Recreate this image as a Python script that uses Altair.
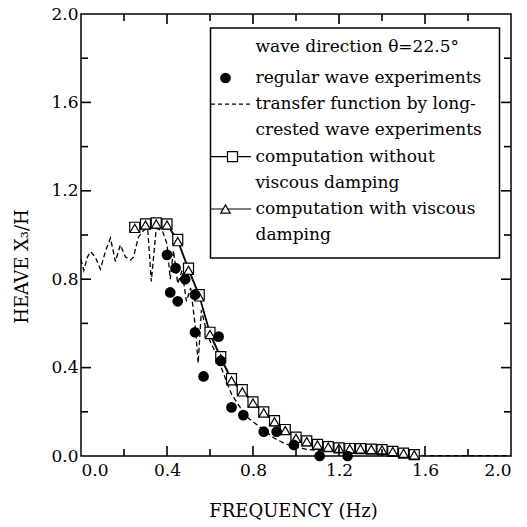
import altair as alt
import pandas as pd

# ---------------- data ----------------
comp_f = [0.25, 0.30, 0.35, 0.40, 0.45, 0.50, 0.55, 0.60, 0.65, 0.70, 0.75, 0.80, 0.85, 0.90,
          0.95, 1.00, 1.05, 1.10, 1.15, 1.20, 1.25, 1.30, 1.35, 1.40, 1.45, 1.50, 1.55]
without_visc = [1.035, 1.05, 1.055, 1.05, 0.98, 0.85, 0.73, 0.56, 0.45, 0.35, 0.30, 0.245, 0.20, 0.16,
                0.12, 0.085, 0.068, 0.053, 0.042, 0.037, 0.034, 0.033, 0.031, 0.029, 0.021, 0.013, 0.006]
with_visc = [1.03, 1.045, 1.05, 1.045, 0.97, 0.84, 0.72, 0.55, 0.44, 0.34, 0.29, 0.24, 0.195, 0.155,
             0.115, 0.08, 0.065, 0.05, 0.04, 0.035, 0.033, 0.032, 0.03, 0.028, 0.02, 0.012, 0.005]

reg_f = [0.40, 0.415, 0.44, 0.45, 0.485, 0.53, 0.53, 0.57, 0.64, 0.65, 0.70, 0.755, 0.85, 0.91, 0.99, 1.11, 1.24]
reg_v = [0.91, 0.74, 0.85, 0.70, 0.80, 0.73, 0.56, 0.36, 0.54, 0.43, 0.22, 0.185, 0.11, 0.11, 0.05, 0.0, 0.0]

tf_f = [0.00, 0.013, 0.03, 0.044, 0.067, 0.09, 0.115, 0.137, 0.16, 0.183, 0.207, 0.23, 0.244, 0.267,
        0.29, 0.31, 0.327, 0.35, 0.378, 0.40, 0.415, 0.43, 0.45, 0.47, 0.49, 0.51, 0.53, 0.545, 0.56,
        0.58, 0.60, 0.63, 0.66, 0.70, 0.74, 0.78, 0.82, 0.86, 0.90, 0.95, 1.00, 1.05, 1.10, 1.20,
        1.30, 1.40, 1.50, 1.56, 1.60, 1.70, 1.80, 1.90, 2.00]
tf_v = [0.89, 0.84, 0.90, 0.925, 0.90, 0.846, 0.93, 0.986, 0.88, 0.955, 0.90, 0.887, 0.90, 0.99,
        1.02, 1.03, 0.79, 1.03, 1.02, 0.96, 0.80, 0.93, 0.78, 0.84, 0.70, 0.76, 0.60, 0.42, 0.66,
        0.58, 0.52, 0.46, 0.38, 0.28, 0.22, 0.17, 0.14, 0.11, 0.08, 0.055, 0.04, 0.03, 0.025, 0.02,
        0.015, 0.012, 0.008, 0.005, 0.002, 0.002, 0.002, 0.002, 0.002]

label_ticks = [0.0, 0.4, 0.8, 1.2, 1.6, 2.0]
all_ticks = [0.2, 0.4, 0.6, 0.8, 1.0, 1.2, 1.4, 1.6, 1.8]

legend_title = "wave direction θ=22.5°"
legend_lines = [
    "regular wave experiments",
    "transfer function by long-",
    "crested wave experiments",
    "computation without",
    "viscous damping",
    "computation with viscous",
    "damping",
]

x_title = "FREQUENCY (Hz)"
y_title = "HEAVE X₃/H"

# ---------------- layout ----------------
W, H = 430, 442
FONT = "DejaVu Serif"
XMIN, XMAX, YMIN, YMAX = 0.0, 2.0, 0.0, 2.0

xs = alt.Scale(domain=[XMIN, XMAX], nice=False, zero=False)
ys = alt.Scale(domain=[YMIN, YMAX], nice=False, zero=False)

nb = "\u00a0" * 5
label_xaxis = alt.Axis(values=label_ticks, ticks=False, domain=False, grid=False,
                       labelPadding=6,
                       labelExpr=f"datum.value == 0 ? '{nb}0.0' : format(datum.value, '.1f')",
                       title=x_title, titleX=212, titleY=55, titleBaseline="middle")
label_yaxis = alt.Axis(values=label_ticks, format=".1f", ticks=False, domain=False, grid=False,
                       labelPadding=3, title=y_title, titleX=-59, titleY=252, titleBaseline="middle")

Xn = alt.X("f:Q", scale=xs, axis=None)
Yn = alt.Y("v:Q", scale=ys, axis=None)

comp_w = pd.DataFrame({"f": comp_f, "v": with_visc})
comp_wo = pd.DataFrame({"f": comp_f, "v": without_visc})
reg = pd.DataFrame({"f": reg_f, "v": reg_v})
tf = pd.DataFrame({"f": tf_f, "v": tf_v})

tf_line = alt.Chart(tf).mark_line(color="black", strokeWidth=1.3, strokeDash=[5, 3]).encode(
    x=alt.X("f:Q", scale=xs, axis=label_xaxis), y=alt.Y("v:Q", scale=ys, axis=label_yaxis))
wo_line = alt.Chart(comp_wo).mark_line(color="black", strokeWidth=1.1).encode(x=Xn, y=Yn)
w_line = alt.Chart(comp_w).mark_line(color="black", strokeWidth=1.1).encode(x=Xn, y=Yn)
wo_pts = alt.Chart(comp_wo).mark_point(shape="square", size=100, filled=True, fill="white",
                                       stroke="black", strokeWidth=1.2, opacity=1).encode(x=Xn, y=Yn)
w_pts = alt.Chart(comp_w).mark_point(shape="triangle-up", size=90, filled=True, fill="white",
                                     stroke="black", strokeWidth=1.2, opacity=1).encode(x=Xn, y=Yn)
reg_pts = alt.Chart(reg).mark_circle(size=115, color="black", opacity=1).encode(x=Xn, y=Yn)

# inward frame ticks as short two-point line segments (pixel length -> data units)
rows = []
for t in all_ticks:
    px = 10 if round(t * 5) % 2 == 0 else 7
    dy = px * (YMAX - YMIN) / H
    dx = px * (XMAX - XMIN) / W
    segs = {
        "b": [(t, YMIN), (t, YMIN + dy)],
        "t": [(t, YMAX), (t, YMAX - dy)],
        "l": [(XMIN, t), (XMIN + dx, t)],
        "r": [(XMAX, t), (XMAX - dx, t)],
    }
    for side, pts in segs.items():
        for k, (a, b) in enumerate(pts):
            rows.append({"id": f"{side}{t}", "f": a, "v": b, "o": k})
ticks_df = pd.DataFrame(rows)
ticks = alt.Chart(ticks_df).mark_line(color="black", strokeWidth=1.6).encode(
    x=Xn, y=Yn, detail="id:N", order="o:Q")

# ---------------- legend box ----------------
one = pd.DataFrame({"a": [0]})
LX0, LX1, LY0, LY1 = 129.5, 418.5, 14, 244
TX = 174.5
title_y = 33
line_y0, line_dy = 64, 26.2
LFS = 17

box = alt.Chart(one).mark_rect(fill="white", stroke="black", strokeWidth=1.5).encode(
    x=alt.value(LX0), x2=alt.value(LX1), y=alt.value(LY0), y2=alt.value(LY1))

texts = [alt.Chart(one).mark_text(align="left", baseline="middle", font=FONT, fontSize=LFS, color="black").encode(
    x=alt.value(TX), y=alt.value(title_y), text=alt.value(legend_title))]
line_ys = []
for i, s in enumerate(legend_lines):
    yy = line_y0 + i * line_dy
    line_ys.append(yy)
    texts.append(alt.Chart(one).mark_text(align="left", baseline="middle", font=FONT, fontSize=LFS,
                                          color="black").encode(
        x=alt.value(TX), y=alt.value(yy), text=alt.value(s)))

sym_circle = alt.Chart(one).mark_circle(size=115, color="black", opacity=1).encode(
    x=alt.value(144.5), y=alt.value(line_ys[0]))
sym_dash = alt.Chart(one).mark_rule(color="black", strokeWidth=1.3, strokeDash=[4, 3]).encode(
    x=alt.value(130), x2=alt.value(170), y=alt.value(line_ys[1]))
sym_sq_line = alt.Chart(one).mark_rule(color="black", strokeWidth=1.1).encode(
    x=alt.value(130), x2=alt.value(170), y=alt.value(line_ys[3]))
sym_sq = alt.Chart(one).mark_point(shape="square", size=100, filled=True, fill="white", stroke="black",
                                   strokeWidth=1.2, opacity=1).encode(x=alt.value(151.5), y=alt.value(line_ys[3]))
sym_tr_line = alt.Chart(one).mark_rule(color="black", strokeWidth=1.1).encode(
    x=alt.value(130), x2=alt.value(170), y=alt.value(line_ys[5]))
sym_tr = alt.Chart(one).mark_point(shape="triangle-up", size=90, filled=True, fill="white", stroke="black",
                                   strokeWidth=1.2, opacity=1).encode(x=alt.value(144.5), y=alt.value(line_ys[5]))

chart = alt.layer(
    tf_line, wo_line, w_line, wo_pts, w_pts, reg_pts,
    box, *texts, sym_circle, sym_dash, sym_sq_line, sym_sq, sym_tr_line, sym_tr, ticks
).resolve_axis(
    x="independent", y="independent"
).properties(
    width=W, height=H,
    padding={"left": 81, "top": 14, "right": 16, "bottom": 71},
    autosize=alt.AutoSizeParams(type="none"),
    background="white",
).configure_view(
    stroke="black", strokeWidth=1.5
).configure_axis(
    labelFont=FONT, labelFontSize=17, labelColor="black",
    titleFont=FONT, titleFontSize=18, titleFontWeight="normal", titleColor="black",
)

chart.save("out.html", embed_options={"renderer": "svg", "actions": False})
